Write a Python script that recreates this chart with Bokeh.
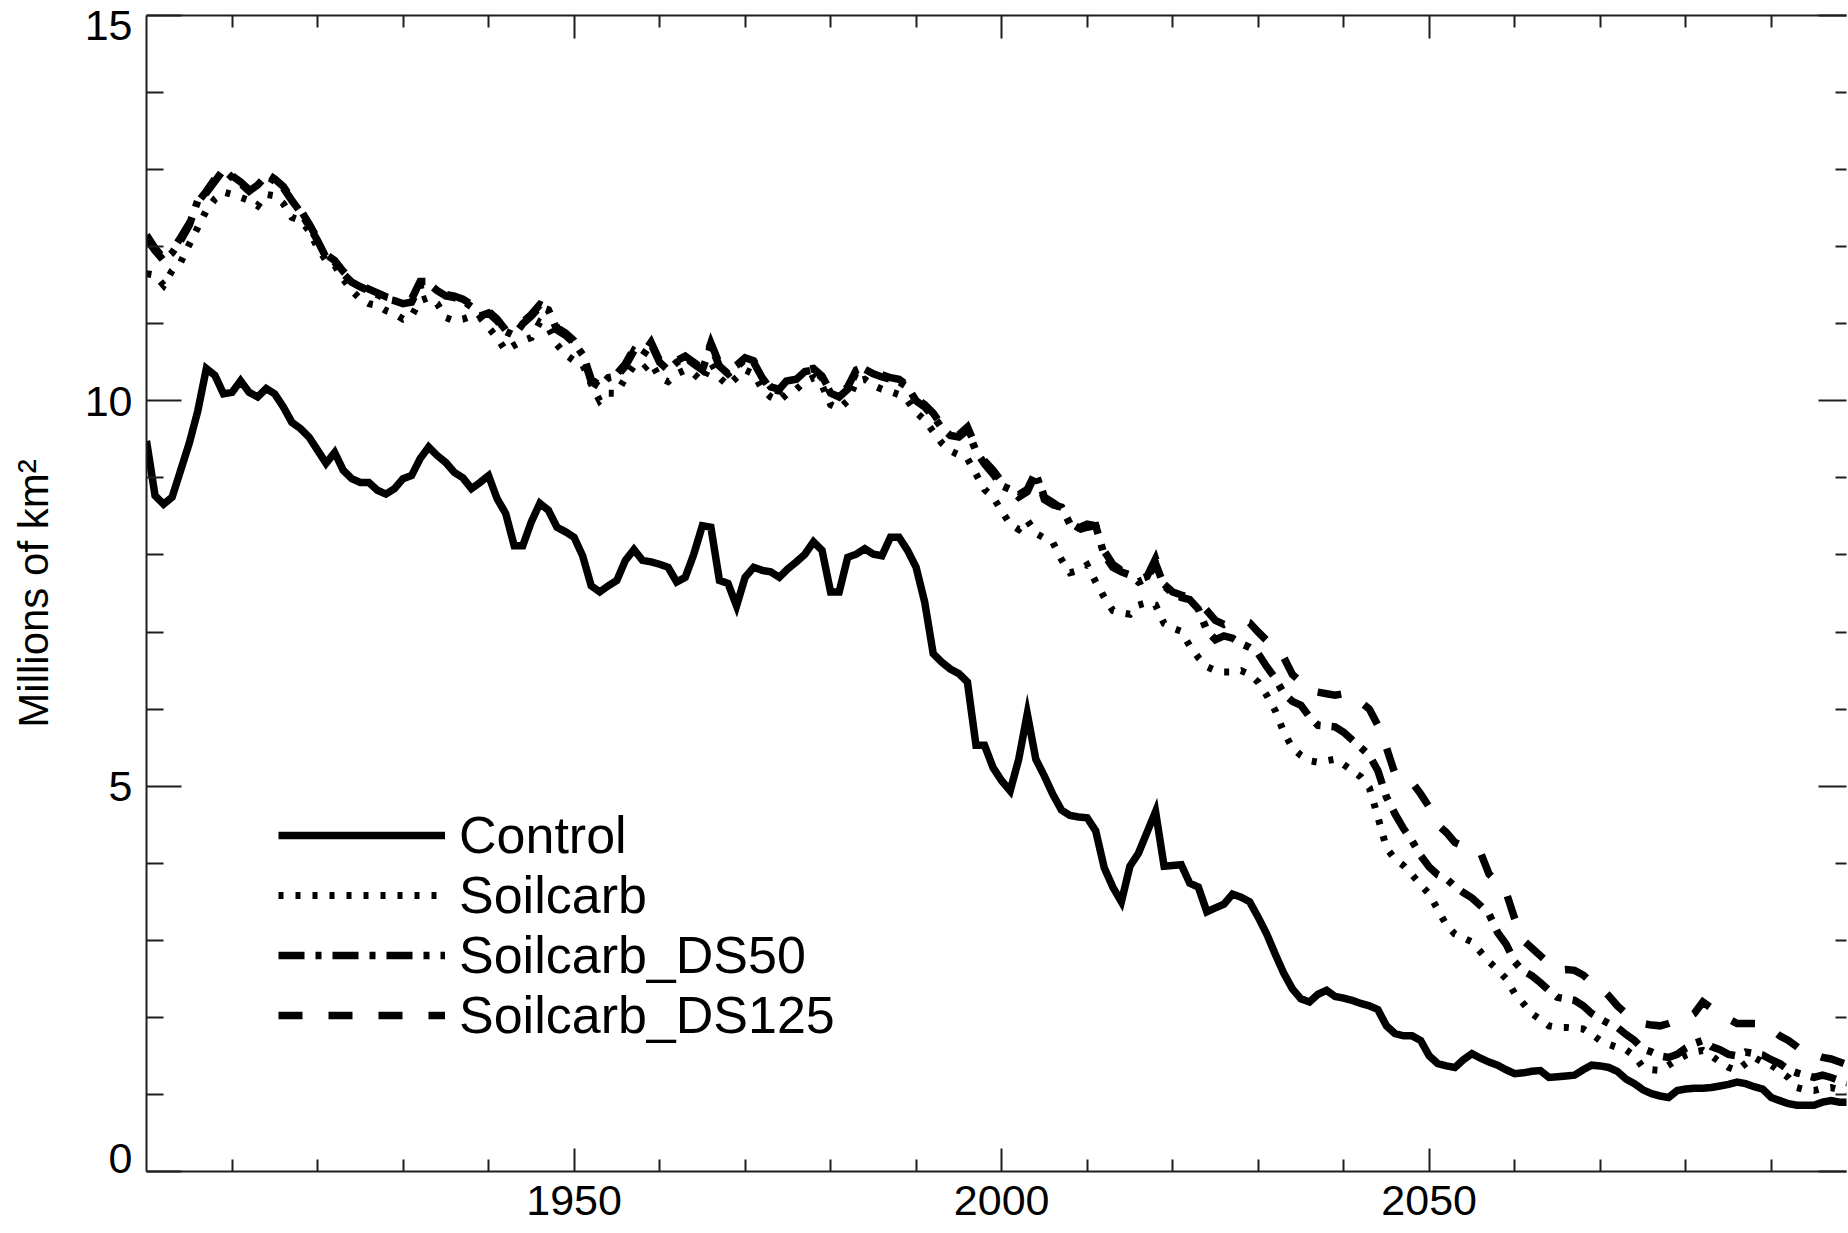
from bokeh.embed import file_html
from bokeh.models import FixedTicker, Legend, LegendItem, LinearAxis, Range1d
from bokeh.plotting import figure
from bokeh.resources import INLINE

# ---------------------------------------------------------------- data
years = list(range(1900, 2101))

control = [
    9.48, 8.77, 8.66, 8.75, 9.10, 9.45, 9.87, 10.42, 10.33, 10.09,
    10.11, 10.26, 10.11, 10.05, 10.16, 10.09, 9.92, 9.72, 9.64, 9.53,
    9.36, 9.19, 9.33, 9.10, 8.99, 8.94, 8.94, 8.84, 8.79, 8.86,
    8.99, 9.03, 9.25, 9.40, 9.29, 9.20, 9.07, 9.00, 8.86, 8.94,
    9.03, 8.73, 8.54, 8.12, 8.12, 8.43, 8.67, 8.58, 8.36, 8.30,
    8.23, 7.99, 7.60, 7.52, 7.60, 7.67, 7.93, 8.07, 7.93, 7.91,
    7.88, 7.84, 7.65, 7.71, 8.01, 8.38, 8.36, 7.67, 7.63, 7.34,
    7.71, 7.84, 7.80, 7.78, 7.71, 7.82, 7.91, 8.01, 8.17, 8.06,
    7.52, 7.52, 7.97, 8.01, 8.08, 8.01, 7.99, 8.23, 8.23, 8.06,
    7.84, 7.39, 6.72, 6.61, 6.52, 6.46, 6.35, 5.53, 5.53, 5.24,
    5.07, 4.94, 5.35, 5.94, 5.35, 5.13, 4.89, 4.69, 4.62, 4.60,
    4.59, 4.42, 3.94, 3.69, 3.50, 3.96, 4.13, 4.40, 4.67, 3.96,
    3.97, 3.98, 3.74, 3.69, 3.37, 3.42, 3.47, 3.60, 3.56, 3.50,
    3.30, 3.08, 2.82, 2.57, 2.37, 2.24, 2.20, 2.30, 2.35, 2.27,
    2.25, 2.22, 2.18, 2.15, 2.10, 1.89, 1.79, 1.76, 1.76, 1.70,
    1.50, 1.40, 1.37, 1.35, 1.45, 1.53, 1.47, 1.42, 1.38, 1.32,
    1.27, 1.28, 1.30, 1.31, 1.22, 1.23, 1.24, 1.25, 1.32, 1.38,
    1.37, 1.35, 1.30, 1.20, 1.14, 1.06, 1.01, 0.98, 0.96, 1.05,
    1.07, 1.08, 1.08, 1.09, 1.11, 1.13, 1.16, 1.14, 1.10, 1.07,
    0.96, 0.92, 0.88, 0.86, 0.86, 0.86, 0.90, 0.92, 0.90, 0.90,
    0.89,
]

soilcarb = [
    11.65, 11.63, 11.50, 11.69, 11.80, 12.03, 12.25, 12.47, 12.62, 12.71,
    12.68, 12.64, 12.60, 12.53, 12.68, 12.66, 12.56, 12.38, 12.34, 12.21,
    11.99, 11.82, 11.76, 11.58, 11.43, 11.32, 11.26, 11.24, 11.17, 11.13,
    11.06, 11.10, 11.30, 11.34, 11.26, 11.08, 11.04, 11.06, 11.10, 11.08,
    10.95, 10.82, 10.65, 10.72, 10.78, 10.82, 11.02, 10.95, 10.73, 10.60,
    10.52, 10.47, 10.22, 10.00, 10.10, 10.10, 10.30, 10.45, 10.40, 10.50,
    10.30, 10.25, 10.35, 10.40, 10.35, 10.25, 10.50, 10.30, 10.20, 10.30,
    10.40, 10.35, 10.15, 10.05, 10.00, 10.10, 10.15, 10.25, 10.30, 10.20,
    9.95, 9.90, 10.00, 10.25, 10.28, 10.20, 10.15, 10.12, 10.08, 10.00,
    9.85, 9.75, 9.60, 9.45, 9.35, 9.30, 9.25, 9.05, 8.85, 8.75,
    8.57, 8.40, 8.33, 8.45, 8.28, 8.22, 8.16, 7.94, 7.77, 7.80,
    7.87, 7.65, 7.45, 7.28, 7.25, 7.23, 7.35, 7.38, 7.35, 7.11,
    7.05, 7.01, 6.82, 6.67, 6.55, 6.50, 6.48, 6.48, 6.50, 6.45,
    6.35, 6.18, 5.98, 5.70, 5.50, 5.40, 5.33, 5.31, 5.33, 5.35,
    5.28, 5.20, 5.12, 4.98, 4.60, 4.20, 4.05, 3.97, 3.85, 3.72,
    3.60, 3.40, 3.20, 3.08, 3.03, 2.98, 2.85, 2.72, 2.62, 2.50,
    2.31, 2.18, 2.05, 1.97, 1.89, 1.87, 1.87, 1.86, 1.85, 1.78,
    1.70, 1.65, 1.61, 1.58, 1.50, 1.35, 1.32, 1.31, 1.38, 1.45,
    1.51, 1.55, 1.57, 1.50, 1.42, 1.35, 1.31, 1.40, 1.48, 1.42,
    1.38, 1.30, 1.22, 1.09, 1.06, 1.05, 1.08, 1.09, 1.06, 1.04,
    1.02,
]

soilcarb_ds50 = [
    12.10, 11.95, 11.82, 11.92, 12.08, 12.28, 12.60, 12.70, 12.85, 13.00,
    12.90, 12.82, 12.72, 12.80, 12.92, 12.85, 12.76, 12.60, 12.45, 12.27,
    12.08, 11.86, 11.80, 11.65, 11.54, 11.48, 11.43, 11.38, 11.32, 11.30,
    11.26, 11.28, 11.50, 11.52, 11.43, 11.36, 11.34, 11.30, 11.22, 11.10,
    11.14, 11.04, 10.90, 10.85, 11.00, 11.10, 11.22, 11.18, 10.92, 10.85,
    10.75, 10.60, 10.25, 10.18, 10.30, 10.32, 10.45, 10.65, 10.58, 10.74,
    10.50, 10.40, 10.50, 10.56, 10.48, 10.40, 10.72, 10.45, 10.35, 10.44,
    10.54, 10.50, 10.30, 10.15, 10.13, 10.26, 10.28, 10.38, 10.40, 10.30,
    10.10, 10.05, 10.15, 10.37, 10.41, 10.35, 10.31, 10.28, 10.25, 10.18,
    10.00, 9.92, 9.80, 9.65, 9.55, 9.53, 9.62, 9.35, 9.18, 9.05,
    8.90, 8.85, 8.75, 8.82, 9.06, 8.72, 8.65, 8.62, 8.40, 8.33,
    8.36, 8.38, 8.00, 7.84, 7.78, 7.74, 7.65, 7.70, 7.89, 7.60,
    7.50, 7.45, 7.42, 7.30, 7.02, 6.90, 6.95, 6.92, 6.85, 6.80,
    6.72, 6.55, 6.40, 6.20, 6.10, 6.05, 5.90, 5.79, 5.78, 5.77,
    5.70, 5.60, 5.50, 5.40, 5.20, 4.86, 4.64, 4.45, 4.29, 4.10,
    3.95, 3.85, 3.80, 3.70, 3.62, 3.55, 3.45, 3.34, 3.10, 2.95,
    2.72, 2.60, 2.54, 2.45, 2.35, 2.26, 2.24, 2.22, 2.15, 2.05,
    1.98, 1.92, 1.87, 1.78, 1.70, 1.59, 1.55, 1.50, 1.48, 1.52,
    1.60, 1.66, 1.70, 1.62, 1.58, 1.52, 1.50, 1.55, 1.53, 1.51,
    1.45, 1.40, 1.32, 1.28, 1.25, 1.22, 1.25, 1.22, 1.18, 1.15,
    1.12,
]

soilcarb_ds125 = [
    12.15, 11.98, 11.85, 11.95, 12.12, 12.30, 12.58, 12.72, 12.88, 13.02,
    12.92, 12.84, 12.74, 12.82, 12.95, 12.88, 12.78, 12.62, 12.48, 12.30,
    12.10, 11.90, 11.82, 11.68, 11.56, 11.50, 11.45, 11.40, 11.35, 11.32,
    11.28, 11.32, 11.55, 11.55, 11.46, 11.38, 11.36, 11.32, 11.25, 11.12,
    11.16, 11.06, 10.92, 10.88, 11.02, 11.12, 11.25, 11.20, 10.95, 10.88,
    10.78, 10.62, 10.28, 10.20, 10.32, 10.35, 10.48, 10.68, 10.60, 10.76,
    10.52, 10.42, 10.52, 10.58, 10.50, 10.42, 10.75, 10.48, 10.38, 10.46,
    10.56, 10.52, 10.32, 10.18, 10.15, 10.28, 10.30, 10.40, 10.42, 10.32,
    10.12, 10.08, 10.18, 10.40, 10.44, 10.38, 10.34, 10.30, 10.28, 10.20,
    10.03, 9.95, 9.84, 9.68, 9.58, 9.56, 9.66, 9.40, 9.22, 9.10,
    8.95, 8.88, 8.78, 8.85, 9.08, 8.75, 8.68, 8.60, 8.42, 8.35,
    8.40, 8.38, 8.05, 7.88, 7.80, 7.74, 7.68, 7.72, 7.95, 7.62,
    7.52, 7.48, 7.45, 7.40, 7.28, 7.15, 7.10, 7.15, 7.15, 7.12,
    7.00, 6.89, 6.78, 6.67, 6.45, 6.35, 6.24, 6.22, 6.20, 6.18,
    6.20, 6.12, 6.09, 6.00, 5.79, 5.50, 5.16, 5.10, 5.05, 4.90,
    4.73, 4.50, 4.40, 4.27, 4.22, 4.18, 4.14, 3.86, 3.75, 3.62,
    3.28, 3.00, 2.90, 2.80, 2.70, 2.61, 2.62, 2.61, 2.55, 2.45,
    2.39, 2.28, 2.15, 2.05, 1.98, 1.92, 1.90, 1.89, 1.92, 1.96,
    1.98, 2.05, 2.20, 2.12, 2.05, 1.98, 1.92, 1.92, 1.92, 1.92,
    1.85, 1.76, 1.70, 1.62, 1.53, 1.52, 1.48, 1.46, 1.42, 1.38,
    1.36,
]

series_names = ["Control", "Soilcarb", "Soilcarb_DS50", "Soilcarb_DS125"]

xtick_values = [1950, 2000, 2050]
xminor_values = [1910, 1920, 1930, 1940, 1960, 1970, 1980, 1990,
                 2010, 2020, 2030, 2040, 2060, 2070, 2080, 2090]
ytick_values = [0, 5, 10, 15]
ytick_labels = ["0", "5", "10", "15"]
yminor_values = [1, 2, 3, 4, 6, 7, 8, 9, 11, 12, 13, 14]

y_title = "Millions of km\u00b2"

# ---------------------------------------------------------------- styling
FONT = "Liberation Sans"
INK = "#000000"
AXIS_INK = "#1e1e1e"

p = figure(
    width=1848, height=1233,
    output_backend="svg", toolbar_location=None,
    x_range=Range1d(1900, 2098.8), y_range=Range1d(0, 15),
    x_axis_location=None, y_axis_location=None,
    min_border_left=146, min_border_right=2,
    min_border_top=15, min_border_bottom=62,
    background_fill_color="white", border_fill_color="white",
)
p.outline_line_color = None
p.xgrid.grid_line_color = None
p.ygrid.grid_line_color = None


def frame_axis(ticks, minors, tick_in, minor_in, show_line=True):
    ax = LinearAxis(ticker=FixedTicker(ticks=ticks, minor_ticks=minors))
    ax.major_tick_in = tick_in
    ax.major_tick_out = 0
    ax.minor_tick_in = minor_in
    ax.minor_tick_out = 0
    ax.axis_line_color = AXIS_INK if show_line else None
    ax.axis_line_width = 2
    ax.major_tick_line_color = AXIS_INK
    ax.major_tick_line_width = 2
    ax.minor_tick_line_color = AXIS_INK
    ax.minor_tick_line_width = 2
    ax.major_label_text_font = FONT
    ax.major_label_text_font_size = "43px"
    ax.major_label_text_color = INK
    return ax


def unlabeled(ax, ticks):
    # mirrored frame side: ticks only
    ax.major_label_overrides = {t: "" for t in ticks}
    ax.major_label_text_color = None
    ax.major_label_text_font_size = "1px"
    ax.major_label_standoff = 0
    return ax


def inset_label(value, text):
    # lift the bottom label just inside the frame with a blank line
    if value == ytick_values[0]:
        return text + "\n"
    return text


left = frame_axis(ytick_values, yminor_values, 35, 17)
left.major_label_standoff = 14
left.major_label_text_line_height = 0.55
left.major_label_overrides = {v: inset_label(v, t) for v, t in zip(ytick_values, ytick_labels)}
left.axis_label = y_title
left.axis_label_text_font = FONT
left.axis_label_text_font_size = "42px"
left.axis_label_text_font_style = "normal"
left.axis_label_text_color = INK
left.axis_label_standoff = 25
p.add_layout(left, "left")

bottom = frame_axis(xtick_values, xminor_values, 23, 12)
bottom.major_label_standoff = 14
p.add_layout(bottom, "below")

p.add_layout(unlabeled(frame_axis(ytick_values, yminor_values, 28, 11, show_line=False),
                       ytick_values), "right")
p.add_layout(unlabeled(frame_axis(xtick_values, xminor_values, 23, 12), xtick_values), "above")

# ---------------------------------------------------------------- lines
line_styles = [
    dict(line_dash="solid", line_width=7.5),
    dict(line_dash="5 12", line_width=7),
    dict(line_dash="26 11 6 11", line_width=7.5),
    dict(line_dash="24 26", line_width=7.5),
]
renderers = []
for ys, style in zip([control, soilcarb, soilcarb_ds50, soilcarb_ds125], line_styles):
    r = p.line(years, ys, line_color=INK, line_join="miter", **style)
    renderers.append(r)

legend = Legend(
    items=[LegendItem(label=n, renderers=[r]) for n, r in zip(series_names, renderers)],
    location=(132, 126),
    padding=0, margin=0, spacing=0,
    glyph_width=167, glyph_height=40, label_height=40, label_standoff=14,
    label_text_font=FONT, label_text_font_size="52px", label_text_color=INK,
    border_line_color=None, background_fill_alpha=0,
)
p.add_layout(legend)

open("out.html", "w").write(file_html(p, INLINE))
